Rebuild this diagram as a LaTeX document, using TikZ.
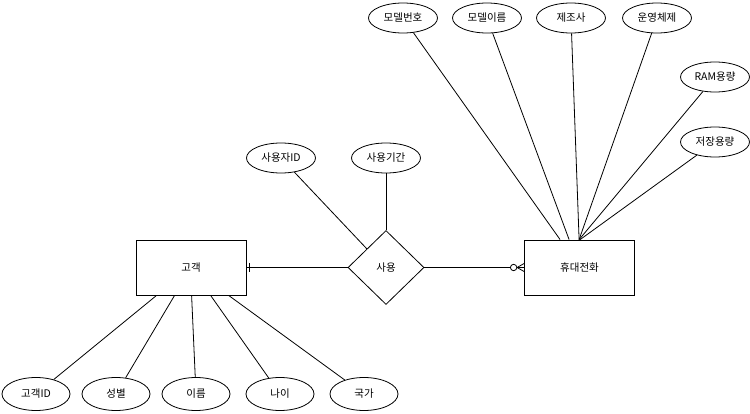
\documentclass[tikz,border=0pt]{standalone}
\usepackage{fontspec}
\setmainfont{Noto Sans CJK KR}
\usetikzlibrary{shapes.geometric,calc}
\begin{document}
\begin{tikzpicture}[x=1pt,y=-1pt, line width=0.8pt,
 font=\fontsize{10.5}{12}\selectfont,
 ent/.style={draw, minimum width=110pt, minimum height=55pt, inner sep=0pt},
 attrtop/.style={draw, ellipse, minimum width=69pt, minimum height=30pt, inner sep=0pt},
 attrbot/.style={draw, ellipse, minimum width=68pt, minimum height=33pt, inner sep=0pt},
 rel/.style={draw, diamond, minimum width=76pt, minimum height=74pt, inner sep=0pt}]
\useasboundingbox[fill=white] (0,0) rectangle (750,414);

\node[ent] (cust) at (191,267.5) {고객};
\node[ent] (phone) at (579.5,267.5) {휴대전화};
\node[rel] (use) at (386,267.5) {사용};

% customer attributes
\node[attrbot] (c1) at (36,394) {고객ID};
\node[attrbot] (c2) at (116,394) {성별};
\node[attrbot] (c3) at (196,394) {이름};
\node[attrbot] (c4) at (280,394) {나이};
\node[attrbot] (c5) at (364,394) {국가};

% relationship attributes
\node[attrtop] (u1) at (281,158) {사용자ID};
\node[attrtop] (u2) at (386,158) {사용기간};

% phone attributes
\node[attrtop] (p1) at (403,18) {모델번호};
\node[attrtop] (p2) at (487,18) {모델이름};
\node[attrtop] (p3) at (571,18) {제조사};
\node[attrtop] (p4) at (657,18) {운영체제};
\node[attrtop] (p5) at (715,77) {RAM용량};
\node[attrtop] (p6) at (715,142) {저장용량};

% customer attribute connectors
\draw (c1) -- ($(cust.south west)+(21,0)$);
\draw (c2) -- ($(cust.south west)+(39,0)$);
\draw (c3) -- ($(cust.south west)+(56,0)$);
\draw (c4) -- ($(cust.south west)+(75,0)$);
\draw (c5) -- ($(cust.south west)+(93,0)$);

% relationship attribute connectors
\draw (u1) -- ($(use.north)!0.5!(use.west)$);
\draw (u2) -- (use.north);

% phone attribute connectors
\draw (p1) -- ($(phone.north west)+(36,0)$);
\draw (p2) -- ($(phone.north west)+(45,0)$);
\draw (p3) -- ($(phone.north west)+(55,0)$);
\draw (p4) -- ($(phone.north west)+(55,0)$);
\draw (p5) -- ($(phone.north west)+(55,0)$);
\draw (p6) -- ($(phone.north west)+(56,0)$);

% relationship lines
\draw (cust.east) -- (use.west);
\draw ($(cust.east)+(3,-4.5)$) -- ($(cust.east)+(3,4.5)$);
\draw (use.east) -- (phone.west);
\draw ($(phone.west)+(-7,0)$) -- ($(phone.west)+(0,-4)$);
\draw ($(phone.west)+(-7,0)$) -- ($(phone.west)+(0,4)$);
\draw[fill=white] ($(phone.west)+(-10.5,0)$) circle (3.2);
\end{tikzpicture}
\end{document}
